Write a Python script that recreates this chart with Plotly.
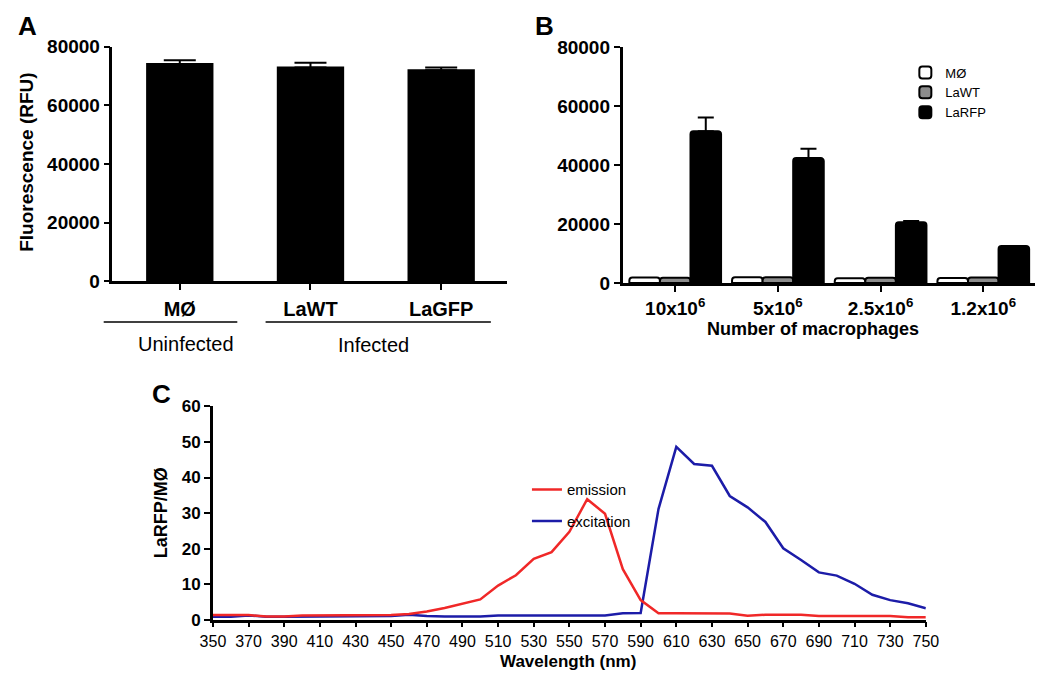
import plotly.graph_objects as go

W, H = 1050, 683
def px(x):
    return x / W
def py(y):
    return 1 - y / H

FONT = "Liberation Sans"

# ---------------- Panel A data ----------------
a_categories = ["MØ", "LaWT", "LaGFP"]
a_values = [74150, 72960, 71970]
a_errors = [1300, 1650, 1000]
a_yticks = [0, 20000, 40000, 60000, 80000]

# ---------------- Panel B data ----------------
b_categories = ["10x10<sup>6</sup>", "5x10<sup>6</sup>", "2.5x10<sup>6</sup>", "1.2x10<sup>6</sup>"]
b_mo = [1900, 2000, 1600, 1700]
b_lawt = [1800, 2000, 1800, 1900]
b_larfp = [51500, 42400, 20600, 12600]
b_larfp_err = [4600, 3100, 400, 0]
b_yticks = [0, 20000, 40000, 60000, 80000]

# ---------------- Panel C data ----------------
wavelength = list(range(350, 751, 10))
emission = [1.3, 1.3, 1.3, 0.9, 0.9, 1.2, 1.2, 1.2, 1.2, 1.2,
            1.3, 1.6, 2.3, 3.3, 4.6, 5.7, 9.6, 12.5, 17.1, 19.0,
            24.7, 33.9, 29.8, 14.2, 5.5, 1.8, 1.8, 1.8, 1.8, 1.7,
            1.1, 1.4, 1.4, 1.4, 1.0, 1.0, 1.0, 1.0, 1.0, 0.7, 0.7]
excitation = [0.8, 0.8, 1.2, 0.8, 0.8, 0.8, 0.8, 0.8, 0.8, 1.0,
              1.0, 1.4, 1.0, 0.9, 0.9, 0.9, 1.2, 1.2, 1.2, 1.2,
              1.2, 1.2, 1.2, 1.8, 1.9, 31.1, 48.6, 43.8, 43.3, 34.8,
              31.6, 27.5, 20.1, 16.8, 13.3, 12.4, 10.1, 7.0, 5.5, 4.6, 3.2]

fig = go.Figure()

# Panel A bars
fig.add_trace(go.Bar(
    x=a_categories, y=a_values, width=0.5, xaxis="x", yaxis="y",
    marker=dict(color="black", line=dict(color="black", width=2)),
    error_y=dict(type="data", array=a_errors, arrayminus=[0] * len(a_errors),
                 symmetric=False, color="black", thickness=2, width=16),
    showlegend=False,
))

# Panel B bars
b_colors = ["white", "#8c8c8c", "black"]
for name, vals, col in zip(["MØ", "LaWT", "LaRFP"], [b_mo, b_lawt, b_larfp], b_colors):
    kw = {}
    if name == "LaRFP":
        kw["error_y"] = dict(type="data", array=b_larfp_err, arrayminus=[0] * 4,
                             symmetric=False, color="black", thickness=2, width=8)
    fig.add_trace(go.Bar(
        x=b_categories, y=vals, name=name, xaxis="x2", yaxis="y2",
        marker=dict(color=col, line=dict(color="black", width=2), cornerradius=3),
        legend="legend", **kw,
    ))

# Panel C lines
fig.add_trace(go.Scatter(
    x=wavelength, y=excitation, mode="lines", name="excitation",
    line=dict(color="#1c1ca8", width=2.5), xaxis="x3", yaxis="y3",
    legend="legend2", legendgroup="b", legendrank=2,
))
fig.add_trace(go.Scatter(
    x=wavelength, y=emission, mode="lines", name="emission",
    line=dict(color="#f02828", width=2.5), xaxis="x3", yaxis="y3",
    legend="legend2", legendgroup="a", legendrank=1,
))

axis_common = dict(showgrid=False, zeroline=False, showline=True, linecolor="black",
                   linewidth=2.5, ticks="outside", tickcolor="black", tickwidth=2,
                   ticklen=6, fixedrange=True)
bold_tick = dict(family=FONT, size=19, color="black", weight="bold")

fig.update_layout(
    width=W, height=H, autosize=False,
    margin=dict(l=0, r=0, t=0, b=0, pad=0),
    paper_bgcolor="white", plot_bgcolor="white",
    barmode="group", bargap=0.107, bargroupgap=0,
    font=dict(family=FONT, color="black"),
    xaxis=dict(axis_common, domain=[px(102), px(507)], anchor="y",
               range=[-0.515, 2.507], tickfont=dict(bold_tick, size=20),
               ticklabelstandoff=2),
    yaxis=dict(axis_common, domain=[py(280), py(38)], anchor="x",
               range=[0, 80000], tickvals=a_yticks, tickformat="d",
               tickfont=bold_tick),
    xaxis2=dict(axis_common, domain=[px(625), px(1048)], anchor="y2",
                range=[-0.513, 3.504], tickfont=bold_tick),
    yaxis2=dict(axis_common, domain=[py(281.7), py(38.3)], anchor="x2",
                range=[0, 80000], tickvals=b_yticks, tickformat="d",
                tickfont=bold_tick),
    xaxis3=dict(axis_common, domain=[px(205), px(936)], anchor="y3",
                range=[350, 750], dtick=20, tick0=350, ticklen=5,
                tickfont=dict(family=FONT, size=16, color="black")),
    yaxis3=dict(axis_common, domain=[py(629), py(409)], anchor="x3",
                range=[0, 60], dtick=10,
                tickfont=dict(family=FONT, size=17, color="black", weight="bold")),
    legend=dict(x=px(915), y=py(49), xanchor="left", yanchor="top",
                font=dict(family=FONT, size=13, color="black"),
                bgcolor="rgba(0,0,0,0)", traceorder="normal"),
    legend2=dict(x=px(527), y=py(478), xanchor="left", yanchor="top",
                 font=dict(family=FONT, size=15, color="black"),
                 bgcolor="rgba(0,0,0,0)", tracegroupgap=9, traceorder="grouped"),
)

annotations = [
    dict(text="<b>A</b>", x=px(15), y=py(16), size=26),
    dict(text="<b>B</b>", x=px(545), y=py(16), size=26),
    dict(text="<b>C</b>", x=px(152), y=py(396), size=26),
    dict(text="<b>Fluorescence (RFU)</b>", x=px(14), y=py(157), size=19, angle=-90),
    dict(text="Uninfected", x=px(177), y=py(345), size=20),
    dict(text="Infected", x=px(370), y=py(346), size=20),
    dict(text="<b>Number of macrophages</b>", x=px(820), y=py(329), size=18),
    dict(text="<b>LaRFP/MØ</b>", x=px(152), y=py(519), size=18, angle=-90),
    dict(text="<b>Wavelength (nm)</b>", x=px(569), y=py(672), size=17),
]
fig.update_layout(annotations=[
    dict(text=a["text"], x=a["x"], y=a["y"], xref="paper", yref="paper",
         xanchor="center", yanchor="middle", showarrow=False,
         textangle=a.get("angle", 0),
         font=dict(family=FONT, size=a["size"], color="black"))
    for a in annotations
])

fig.update_layout(shapes=[
    dict(type="line", xref="paper", yref="paper", x0=px(93), x1=px(230),
         y0=py(322), y1=py(322), line=dict(color="black", width=1.5)),
    dict(type="line", xref="paper", yref="paper", x0=px(259), x1=px(490),
         y0=py(322), y1=py(322), line=dict(color="black", width=1.5)),
])

post = ("document.documentElement.style.margin='0';"
        "document.documentElement.style.padding='0';"
        "document.documentElement.style.overflow='hidden';"
        "document.body.style.margin='0';"
        "document.body.style.padding='0';"
        "document.body.style.overflow='hidden';")
fig.write_html("out.html", config={"displayModeBar": False}, post_script=post)
